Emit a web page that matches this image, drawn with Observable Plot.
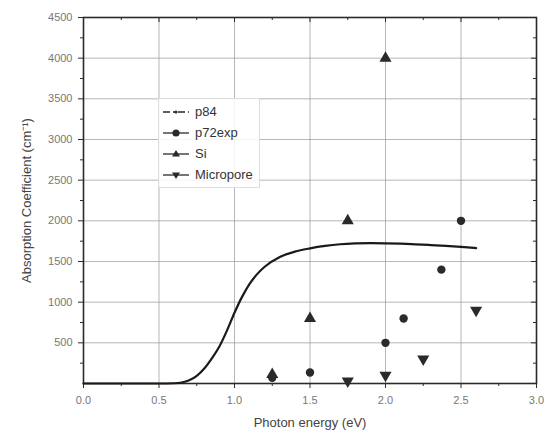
<!DOCTYPE html>
<html>
<head>
<meta charset="utf-8">
<script src="https://cdn.jsdelivr.net/npm/d3@7"></script>
<script src="https://cdn.jsdelivr.net/npm/@observablehq/plot@0.6"></script>
<style>
  html, body { margin: 0; padding: 0; background: #fff; }
  #wrap { position: relative; width: 545px; height: 438px; font-family: "Liberation Sans", Arial, sans-serif; }
  #legend { position: absolute; left: 158px; top: 98px; border: 1px solid #ddd; background: rgba(255,255,255,0.85); padding: 2px 6px 2px 3px; }
  #legend .row { display: flex; align-items: center; height: 21px; font-size: 13px; color: #333; }
  #legend svg { margin-right: 5px; }
</style>
</head>
<body>
<div id="wrap"></div>
<script>
// p84 model curve
const p84X = [0.0, 0.5, 0.6, 0.65, 0.7, 0.75, 0.8, 0.85, 0.9, 0.95, 1.0, 1.05, 1.1, 1.15, 1.2, 1.3, 1.4, 1.5, 1.6, 1.7, 1.8, 1.9, 2.0, 2.1, 2.2, 2.3, 2.4, 2.5, 2.6];
const p84Y = [0, 0, 3, 12, 40, 95, 185, 310, 455, 650, 870, 1065, 1225, 1345, 1435, 1555, 1622, 1662, 1692, 1712, 1722, 1726, 1724, 1719, 1711, 1702, 1692, 1680, 1665];
// measured series
const p72X = [1.25, 1.5, 2.0, 2.12, 2.37, 2.5];
const p72Y = [70, 135, 500, 800, 1400, 2000];
const siX = [1.25, 1.5, 1.75, 2.0];
const siY = [110, 800, 2000, 4000];
const microX = [1.75, 2.0, 2.25, 2.6];
const microY = [30, 100, 300, 900];
// ticks
const xMajor = [0, 0.5, 1.0, 1.5, 2.0, 2.5, 3.0];
const xMinor = [0.25, 0.75, 1.25, 1.75, 2.25, 2.75];
const yMajor = [500, 1000, 1500, 2000, 2500, 3000, 3500, 4000, 4500];
const yMinor = [250, 750, 1250, 1750, 2250, 2750, 3250, 3750, 4250];
const seriesNames = ["p84", "p72exp", "Si", "Micropore"];

const curve = p84X.map((x, i) => ({x, y: p84Y[i]}));
const p72 = p72X.map((x, i) => ({x, y: p72Y[i]}));
const si = siX.map((x, i) => ({x, y: siY[i]}));
const micro = microX.map((x, i) => ({x, y: microY[i]}));

const ink = "#2a2a2a";
const W = 545, H = 438, mT = 17, mB = 55, mL = 83, mR = 9;
const innerH = H - mT - mB, innerW = W - mL - mR;
const chart = Plot.plot({
  width: W,
  height: H,
  marginLeft: mL,
  marginRight: mR,
  marginTop: mT,
  marginBottom: mB,
  style: {fontFamily: "Liberation Sans, Arial, sans-serif", background: "transparent", overflow: "visible"},
  x: {domain: [0, 3]},
  y: {domain: [0, 4500]},
  marks: [
    Plot.gridX(xMajor, {stroke: "#999", strokeOpacity: 0.7}),
    Plot.gridY(yMajor, {stroke: "#999", strokeOpacity: 0.7}),
    Plot.axisX(xMajor, {tickFormat: d3.format(".1f"), tickSize: 5, tickPadding: 8, fontSize: 11, color: "#777", stroke: ink,
      label: "Photon energy (eV)", labelAnchor: "center", labelArrow: "none", labelOffset: 43}),
    Plot.axisX(xMinor, {tickSize: 3, text: null, stroke: ink, label: null}),
    // inward ticks on the top edge
    Plot.tickX(xMajor, {x: d => d, stroke: ink, insetBottom: innerH - 5}),
    Plot.tickX(xMinor, {x: d => d, stroke: ink, insetBottom: innerH - 3}),
    Plot.axisY(yMajor, {tickFormat: d3.format("d"), tickSize: 5, tickPadding: 6, fontSize: 11, color: "#777", stroke: ink,
      label: "Absorption Coefficient (cm⁻¹)", labelAnchor: "center", labelArrow: "none", labelOffset: 62}),
    Plot.axisY(yMinor, {tickSize: 3, text: null, stroke: ink, label: null}),
    // inward ticks on the right edge
    Plot.tickY(yMajor, {y: d => d, stroke: ink, insetLeft: innerW - 5}),
    Plot.tickY(yMinor, {y: d => d, stroke: ink, insetLeft: innerW - 3}),
    Plot.frame({stroke: ink, strokeWidth: 1.6}),
    Plot.line(curve, {x: "x", y: "y", stroke: "#1a1a1a", strokeWidth: 2.2, curve: "monotone-x"}),
    Plot.dot(p72, {x: "x", y: "y", symbol: "circle", r: 4.2, fill: ink, stroke: "none"}),
    Plot.dot(si, {x: "x", y: "y", symbol: "triangle", r: 4.5, fill: ink, stroke: "none"}),
    Plot.dot(micro, {x: "x", y: "y", symbol: "triangle", r: 4.5, fill: ink, stroke: "none", rotate: 180})
  ]
});
chart.querySelectorAll("[aria-label='y-axis label'] text, [aria-label='x-axis label'] text").forEach(t => { t.style.fontSize = "13px"; t.setAttribute("fill", "#444"); });
const wrap = document.getElementById("wrap");
wrap.appendChild(chart);

// legend
const legend = document.createElement("div");
legend.id = "legend";
const shapes = [
  `<line x1="1" x2="27" y1="6" y2="6" stroke="${ink}" stroke-width="1.3" stroke-dasharray="7,3,2,3"/><circle cx="14" cy="6" r="1.6" fill="${ink}"/>`,
  `<line x1="1" x2="27" y1="6" y2="6" stroke="${ink}" stroke-width="1.3"/><circle cx="14" cy="6" r="3.6" fill="${ink}"/>`,
  `<line x1="1" x2="27" y1="6" y2="6" stroke="${ink}" stroke-width="1.3"/><path d="M14,2 L18,8.5 L10,8.5 Z" fill="${ink}"/>`,
  `<line x1="1" x2="27" y1="6" y2="6" stroke="${ink}" stroke-width="1.3"/><path d="M14,10 L18,3.5 L10,3.5 Z" fill="${ink}"/>`
];
seriesNames.forEach((name, i) => {
  const row = document.createElement("div");
  row.className = "row";
  row.innerHTML = `<svg width="28" height="12">${shapes[i]}</svg><span>${name}</span>`;
  legend.appendChild(row);
});
wrap.appendChild(legend);
</script>
</body>
</html>
